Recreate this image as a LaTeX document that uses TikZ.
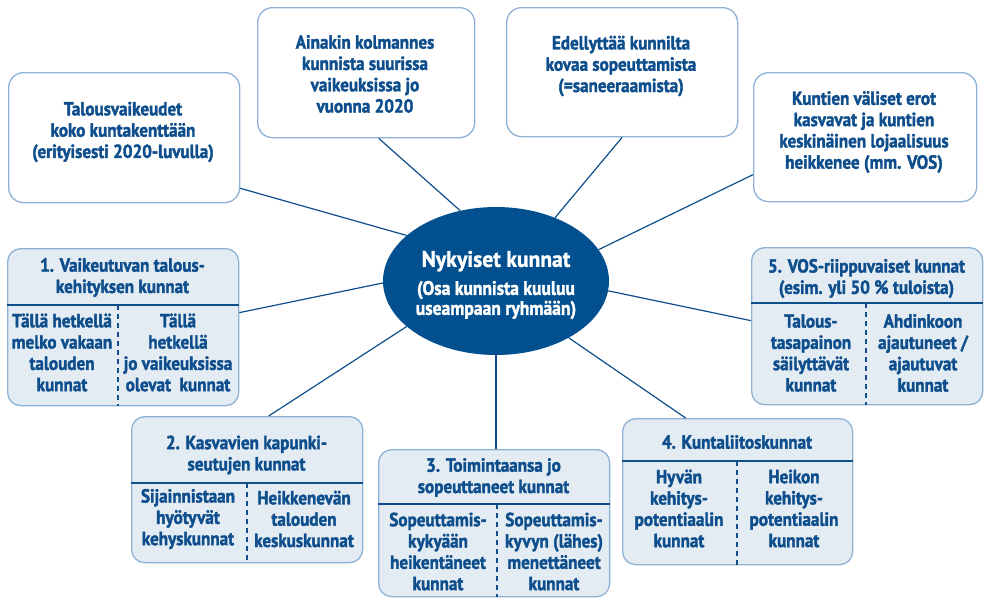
\documentclass[tikz,border=0pt]{standalone}
\usepackage{fontspec}
\newfontfamily\cfont{PT Sans Bold}[FakeStretch=0.9, FakeBold=1.8]
\newfontfamily\efont{PT Sans Bold}[FakeStretch=0.96, FakeBold=1.2]
\usetikzlibrary{calc,shapes.geometric}
\definecolor{tblue}{HTML}{0E4E8C}
\definecolor{eblue}{HTML}{02508F}
\definecolor{bline}{HTML}{8DB2D5}
\definecolor{gfill}{HTML}{E4ECF3}
\begin{document}
\begin{tikzpicture}[x=1pt,y=-1pt,
  topbox/.style={draw=bline, line width=1.3pt, rounded corners=15pt, fill=white, inner sep=0pt, anchor=north west},
  grpbox/.style={draw=bline, line width=1.3pt, rounded corners=13pt, fill=gfill, inner sep=0pt, anchor=north west},
  txt/.style={text=tblue, font=\cfont\fontsize{19}{21.3}\selectfont, align=center, inner sep=0pt},
  etxt/.style={text=white, font=\cfont\fontsize{19.5}{20}\selectfont, align=center, inner sep=0pt},
  conn/.style={draw=tblue, line width=1.2pt},
  divline/.style={draw=tblue, line width=1.6pt},
  dashline/.style={draw=tblue, line width=1.6pt, dash pattern=on 5pt off 4pt},
]
\useasboundingbox (0,0) rectangle (984,598);

% top boxes
\node[topbox, minimum width=231pt, minimum height=130pt] (A) at (8,72) {};
\node[topbox, minimum width=217pt, minimum height=130pt] (B) at (257,7) {};
\node[topbox, minimum width=231pt, minimum height=129pt] (C) at (506,7) {};
\node[topbox, minimum width=223pt, minimum height=129pt] (D) at (753,72) {};
\node[txt] (tA) at (123,132) {Talousvaikeudet\\koko kuntakenttään\\(erityisesti 2020-luvulla)};
\node[txt] (tB) at (365,74) {Ainakin kolmannes\\kunnista suurissa\\vaikeuksissa jo\\vuonna 2020};
\node[txt] (tC) at (621,66) {Edellyttää kunnilta\\kovaa sopeuttamista\\(=saneeraamista)};
\node[txt] (tD) at (864,132) {Kuntien väliset erot\\kasvavat ja kuntien\\keskinäinen lojaalisuus\\heikkenee (mm. VOS)};

% ellipse
\node[ellipse, fill=eblue, minimum width=226pt, minimum height=148pt, inner sep=0pt] (E) at (496,281) {};
\node[etxt] (tE) at (496,285) {{\efont\fontsize{22.5}{22}\selectfont Nykyiset kunnat}\\[8pt](Osa kunnista kuuluu\\useampaan ryhmään)};

% group 1
\node[grpbox, minimum width=231pt, minimum height=157pt] (G1) at (7,248) {};
\draw[divline] ($(G1.north west)+(0,-57pt)$) -- ($(G1.north east)+(0,-57pt)$);
\draw[dashline] ($(G1.north west)+(111pt,-57pt)$) -- ($(G1.south west)+(111pt,0)$);
\node[txt] (t1) at (122.5,277.5) {1. Vaikeutuvan talous-\\kehityksen kunnat};
\node[txt] (t1a) at (62,352.5) {Tällä hetkellä\\melko vakaan\\talouden\\kunnat};
\node[txt] (t1b) at (178,352.5) {Tällä\\hetkellä\\jo vaikeuksissa\\olevat\ \ kunnat};

% group 2
\node[grpbox, minimum width=231pt, minimum height=146pt] (G2) at (131,416) {};
\draw[divline] ($(G2.north west)+(0,-67pt)$) -- ($(G2.north east)+(0,-67pt)$);
\draw[dashline] ($(G2.north west)+(116pt,-67pt)$) -- ($(G2.south west)+(116pt,0)$);
\node[txt] (t2) at (246.5,455) {2. Kasvavien kapunki-\\seutujen kunnat};
\node[txt] (t2a) at (188,519) {Sijainnistaan\\hyötyvät\\kehyskunnat};
\node[txt] (t2b) at (304,519) {Heikkenevän\\talouden\\keskuskunnat};

% group 3
\node[grpbox, minimum width=231pt, minimum height=147pt] (G3) at (378,449) {};
\draw[divline] ($(G3.north west)+(0,-55pt)$) -- ($(G3.north east)+(0,-55pt)$);
\draw[dashline] ($(G3.north west)+(119pt,-55pt)$) -- ($(G3.south west)+(119pt,0)$);
\node[txt] (t3) at (493.5,477.5) {3. Toimintaansa jo\\sopeuttaneet kunnat};
\node[txt] (t3a) at (438,551.5) {Sopeuttamis-\\kykyään\\heikentäneet\\kunnat};
\node[txt] (t3b) at (554,551.5) {Sopeuttamis-\\kyvyn (lähes)\\menettäneet\\kunnat};

% group 4
\node[grpbox, minimum width=230pt, minimum height=146pt] (G4) at (622,418) {};
\draw[divline] ($(G4.north west)+(0,-43pt)$) -- ($(G4.north east)+(0,-43pt)$);
\draw[dashline] ($(G4.north west)+(115pt,-43pt)$) -- ($(G4.south west)+(115pt,0)$);
\node[txt] (t4) at (737,442) {4. Kuntaliitoskunnat};
\node[txt] (t4a) at (679,508.5) {Hyvän\\kehitys-\\potentiaalin\\kunnat};
\node[txt] (t4b) at (794,508.5) {Heikon\\kehitys-\\potentiaalin\\kunnat};

% group 5
\node[grpbox, minimum width=231pt, minimum height=157pt] (G5) at (751,247) {};
\draw[divline] ($(G5.north west)+(0,-56pt)$) -- ($(G5.north east)+(0,-56pt)$);
\draw[dashline] ($(G5.north west)+(115pt,-56pt)$) -- ($(G5.south west)+(115pt,0)$);
\node[txt] (t5) at (866.5,278.5) {5. VOS-riippuvaiset kunnat\\(esim. yli 50 \% tuloista)};
\node[txt] (t5a) at (811,353) {Talous-\\tasapainon\\säilyttävät\\kunnat};
\node[txt] (t5b) at (923,353) {Ahdinkoon\\ajautuneet /\\ajautuvat\\kunnat};

% connectors
\draw[conn] ($(A.south east)+(0,15pt)$) -- (E.153.7);
\draw[conn] ($(B.south)+(12.5pt,0)$) -- (E.117.9);
\draw[conn] (C.south) -- (E.47.3);
\draw[conn] ($(D.west)+(0,-37.5pt)$) -- (E.17.8);
\draw[conn] ($(G1.east)+(0,14.5pt)$) -- (E.181);
\draw[conn] ($(G5.west)+(0,5.5pt)$) -- (E.355);
\draw[conn] ($(G2.north)+(21.5pt,0)$) -- (E.207.8);
\draw[conn] (E.south) -- (E.south |- G3.north);
\draw[conn] ($(G4.north)+(-52pt,0)$) -- (E.322.9);
\end{tikzpicture}
\end{document}
